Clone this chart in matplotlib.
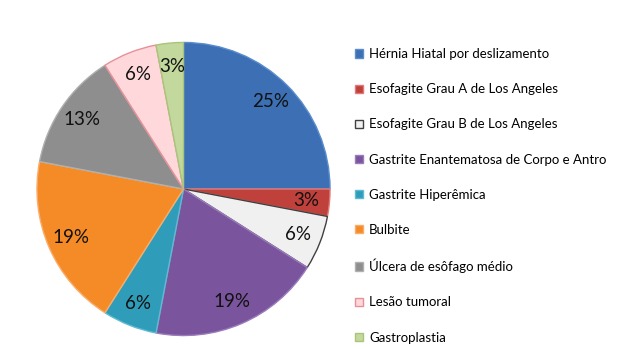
import matplotlib.pyplot as plt

categorias = [
    'Hérnia Hiatal por deslizamento',
    'Esofagite Grau A de Los Angeles',
    'Esofagite Grau B de Los Angeles',
    'Gastrite Enantematosa de Corpo e Antro',
    'Gastrite Hiperêmica',
    'Bulbite',
    'Úlcera de esôfago médio',
    'Lesão tumoral',
    'Gastroplastia',
]
percentuais = [25, 3, 6, 19, 6, 19, 13, 6, 3]

cores  = ['#3c6fb4', '#c0403c', '#f0f0f0', '#7a559d', '#2f9dba',
          '#f58b27', '#8e8e8e', '#ffd8dc', '#c2d89c']
bordas = ['#5b8ccc', '#e07a77', '#404040', '#9a7bbb', '#5fbad2',
          '#f9ad6a', '#b0b0b0', '#e89098', '#a9c57a']

plt.rcParams['font.family'] = ['Lato', 'DejaVu Sans']

fig = plt.figure(figsize=(6.22, 3.49), dpi=100)
ax = fig.add_axes([35.5/622, 12/349, 296/622, 296/349])

wedges, texts, autotexts = ax.pie(
    percentuais, colors=cores, startangle=90, counterclock=False,
    autopct=lambda p: '%.0f%%' % p, pctdistance=0.84,
    wedgeprops=dict(linewidth=1.0),
    textprops=dict(fontsize=13.5, color='#111111'))
for w, b in zip(wedges, bordas):
    w.set_edgecolor(b)
ax.set_xlim(-1.01, 1.01)
ax.set_ylim(-1.01, 1.01)

fig.legend(wedges, categorias, loc='upper left', bbox_to_anchor=(350/622, 1 - 43/349),
           frameon=False, fontsize=9.5, handlelength=0.6, handleheight=0.6,
           handletextpad=0.45, labelspacing=1.75, borderaxespad=0)

fig.savefig('out.png', dpi=100)
